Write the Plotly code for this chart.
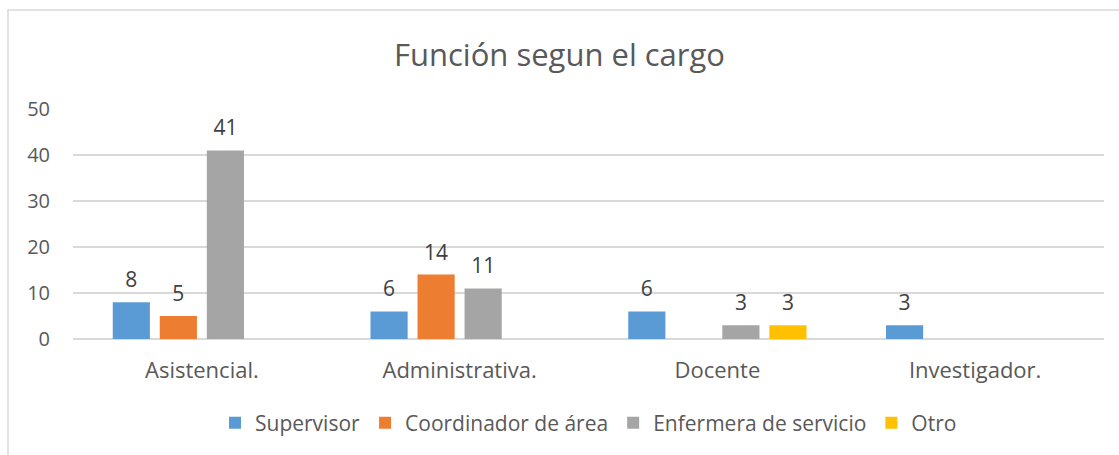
import plotly.graph_objects as go

categories = ["Asistencial.", "Administrativa.", "Docente", "Investigador."]
series_names = ["Supervisor", "Coordinador de área", "Enfermera de servicio", "Otro"]
supervisor = [8, 6, 6, 3]
coordinador = [5, 14, None, None]
enfermera = [41, 11, 3, None]
otro = [None, None, 3, None]
colors = ["#5B9BD5", "#ED7D31", "#A5A5A5", "#FFC000"]
y_ticks = [0, 10, 20, 30, 40, 50]

FONT = "Open Sans"
fig = go.Figure()
all_vals = [supervisor, coordinador, enfermera, otro]
for i, (name, vals, col) in enumerate(zip(series_names, all_vals, colors)):
    fig.add_trace(go.Bar(
        name=name, x=categories, y=vals, marker_color=col, marker_line_width=0,
        offsetgroup=str(i),
    ))
for i, (name, vals) in enumerate(zip(series_names, all_vals)):
    fig.add_trace(go.Scatter(
        x=categories, y=vals, mode="markers+text", offsetgroup=str(i),
        text=[str(v) if v is not None else None for v in vals],
        textposition="top center", showlegend=False, hoverinfo="skip",
        marker=dict(size=14, color="rgba(0,0,0,0)"), cliponaxis=False,
        textfont=dict(size=21, color="#404040", family=FONT),
    ))

W, H = 1119, 455
l, r, t, b = 73, 15, 109, 116
ph = H - t - b
pw = W - l - r

fig.update_layout(
    width=W, height=H,
    margin=dict(l=l, r=r, t=t, b=b, autoexpand=False),
    paper_bgcolor="white", plot_bgcolor="white",
    barmode="group", bargap=0.27, bargroupgap=0.21,
    scattermode="group", scattergap=0.27,
    font=dict(family=FONT, color="#595959", size=16),
    title=dict(text="Función segun el cargo", x=0.5, xanchor="center",
               y=1 - 55 / H, yanchor="middle",
               font=dict(size=31, color="#595959", family=FONT)),
    legend=dict(orientation="h", x=0.5, xanchor="center",
                y=(H - b - 423) / ph, yanchor="middle",
                font=dict(size=21, color="#595959", family=FONT),
                itemwidth=30, traceorder="normal"),
    shapes=[dict(type="rect", xref="paper", yref="paper",
                 x0=(8 - l) / pw, x1=(W + 20 - l) / pw,
                 y0=-(H + 20 - (H - b)) / ph, y1=(H - b - 10) / ph,
                 line=dict(color="#D9D9D9", width=1.5), fillcolor="rgba(0,0,0,0)",
                 layer="below")],
)
fig.update_yaxes(range=[0, 50], tickvals=y_ticks, showgrid=True, gridcolor="#D9D9D9",
                 gridwidth=1.5, zeroline=True, zerolinecolor="#D9D9D9", zerolinewidth=1.5,
                 showline=False, ticklabelstandoff=22,
                 tickfont=dict(size=20, color="#595959", family=FONT))
fig.update_xaxes(showline=False, showgrid=False, ticks="",
                 tickfont=dict(size=22, color="#595959", family=FONT), ticklabelstandoff=16)

fig.write_html("out.html", config={"displayModeBar": False})
with open("out.html", "r", encoding="utf-8") as f:
    html = f.read()
html = html.replace("<head>", "<head><style>html,body{margin:0;padding:0;}</style>", 1)
with open("out.html", "w", encoding="utf-8") as f:
    f.write(html)
